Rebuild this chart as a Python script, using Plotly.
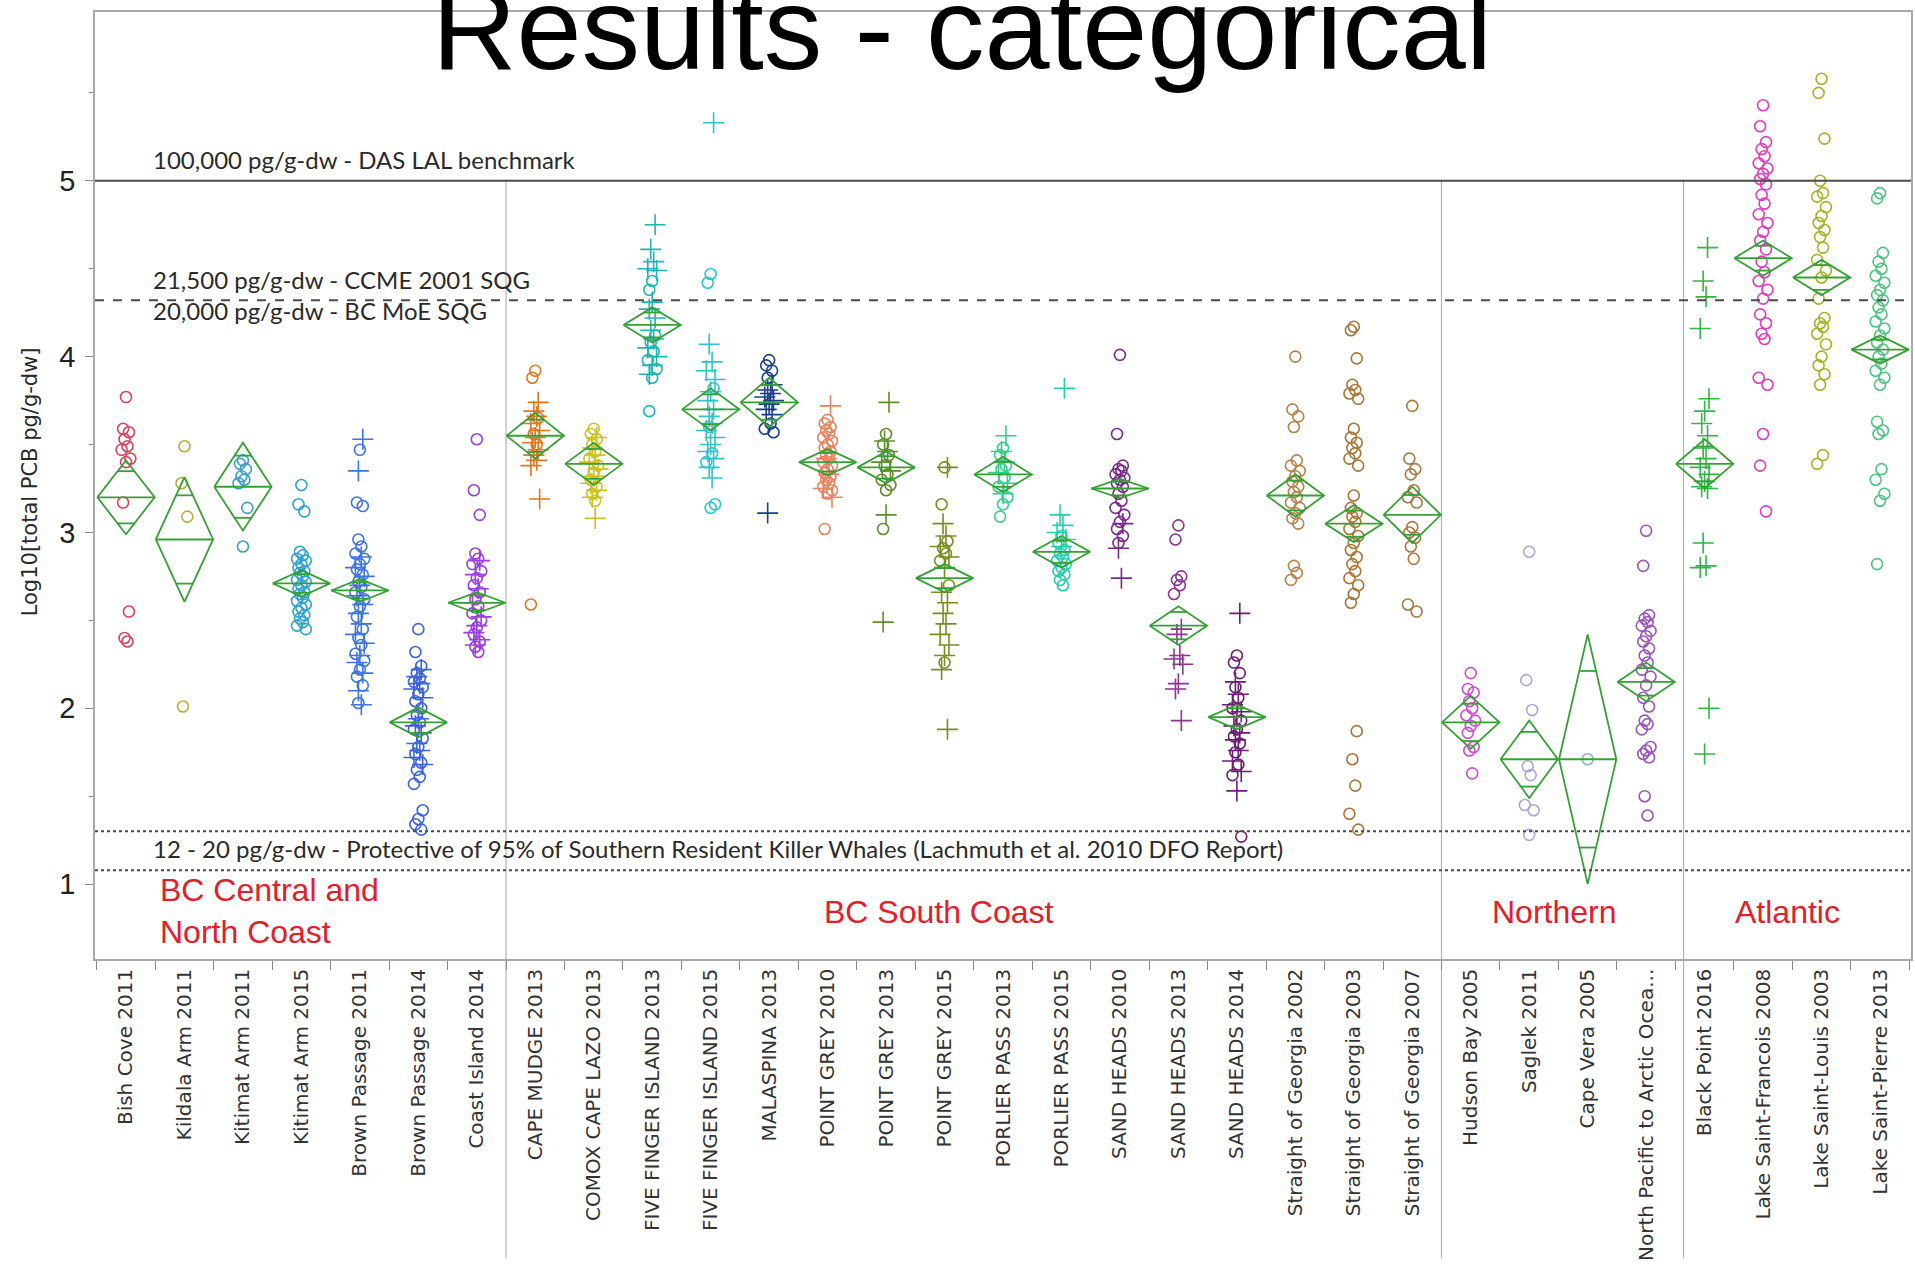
import math
import plotly.graph_objects as go

# ---------------- data ----------------
categories = [
    "Bish Cove 2011", "Kildala Arm 2011", "Kitimat Arm 2011", "Kitimat Arm 2015",
    "Brown Passage 2011", "Brown Passage 2014", "Coast Island 2014",
    "CAPE MUDGE 2013", "COMOX CAPE LAZO 2013", "FIVE FINGER ISLAND 2013",
    "FIVE FINGER ISLAND 2015", "MALASPINA 2013", "POINT GREY 2010", "POINT GREY 2013",
    "POINT GREY 2015", "PORLIER PASS 2013", "PORLIER PASS 2015", "SAND HEADS 2010",
    "SAND HEADS 2013", "SAND HEADS 2014", "Straight of Georgia 2002",
    "Straight of Georgia 2003", "Straight of Georgia 2007", "Hudson Bay 2005",
    "Saglek 2011", "Cape Vera 2005", "North Pacific to Arctic Ocea...",
    "Black Point 2016", "Lake Saint-Francois 2008", "Lake Saint-Louis 2003",
    "Lake Saint-Pierre 2013",
]

colors = [
    "#d9415e", "#b5b03a", "#3a9fc7", "#2fa3d0", "#3f74e0", "#3d63dc", "#9b3fe0",
    "#e0761e", "#c9c21f", "#1fb5b5", "#2ec4c9", "#1c3f8c", "#e8825f", "#5f8f2a",
    "#7a8c22", "#2fd08a", "#22d0b0", "#7a2a8a", "#8b3590", "#6b1e74", "#b5834a",
    "#a97637", "#a8783f", "#d04cd6", "#a7a8d6", "#7fc4a8", "#9a55b8", "#33b545",
    "#e03cbd", "#a4b224", "#4cc47e",
]

# group means and 95% CI half-widths (mean diamonds)
means = [3.20, 2.96, 3.26, 2.71, 2.67, 1.92, 2.60, 3.55, 3.39, 4.18, 3.70, 3.74,
         3.40, 3.37, 2.74, 3.33, 2.89, 3.25, 2.47, 1.95, 3.21, 3.05, 3.10, 1.92,
         1.71, 1.71, 2.15, 3.39, 4.56, 4.45, 4.04]
ci_half = [0.21, 0.355, 0.25, 0.075, 0.065, 0.085, 0.06, 0.13, 0.12, 0.10, 0.12, 0.14,
           0.075, 0.09, 0.08, 0.10, 0.09, 0.055, 0.11, 0.07, 0.12, 0.105, 0.16, 0.15,
           0.22, 0.71, 0.11, 0.14, 0.10, 0.10, 0.08]

# individual log10 values: circles (_O) and plus markers (_P)
BISH_COVE_2011_O = [3.77, 3.59, 3.57, 3.53, 3.49, 3.47, 3.42, 3.40, 3.17, 2.55, 2.40, 2.38]
BISH_COVE_2011_P = []
KILDALA_2011_O = [3.49, 3.28, 3.09, 2.01]
KILDALA_2011_P = []
KITIMAT_2011_O = [3.41, 3.39, 3.36, 3.32, 3.30, 3.28, 3.14, 2.92]
KITIMAT_2011_P = []
KITIMAT_2015_O = [3.27, 3.16, 3.12, 2.89, 2.87, 2.85, 2.84, 2.82, 2.80, 2.78, 2.77, 2.75,
                  2.73, 2.72, 2.70, 2.68, 2.66, 2.65, 2.63, 2.61, 2.59, 2.57, 2.55, 2.53,
                  2.51, 2.49, 2.47, 2.45]
KITIMAT_2015_P = []
BROWN_2011_O = [3.47, 3.17, 3.15, 2.96, 2.92, 2.88, 2.85, 2.82, 2.79, 2.76, 2.72, 2.69,
                2.66, 2.62, 2.58, 2.52, 2.45, 2.40, 2.36, 2.31, 2.27, 2.22, 2.18, 2.13, 2.03]
BROWN_2011_P = [3.53, 3.35, 2.86, 2.80, 2.75, 2.70, 2.64, 2.59, 2.54, 2.48, 2.42, 2.37,
                2.30, 2.26, 2.20, 2.10, 2.02]
BROWN_2014_O = [2.45, 2.32, 2.24, 2.20, 2.17, 2.15, 2.12, 2.08, 2.04, 2.00, 1.96, 1.92,
                1.88, 1.83, 1.78, 1.74, 1.69, 1.65, 1.61, 1.57, 1.42, 1.37, 1.34, 1.31]
BROWN_2014_P = [2.22, 2.18, 2.14, 2.11, 2.06, 1.94, 1.90, 1.86, 1.80, 1.76, 1.72, 1.68]
COAST_2014_O = [3.53, 3.24, 3.10, 2.88, 2.85, 2.82, 2.78, 2.74, 2.70, 2.66, 2.62, 2.58,
                2.54, 2.50, 2.46, 2.42, 2.38, 2.35, 2.32]
COAST_2014_P = [2.84, 2.76, 2.68, 2.60, 2.52, 2.47, 2.43, 2.39, 2.36]
CAPE_MUDGE_2013_O = [3.92, 3.88, 3.65, 3.56, 3.50, 2.59]
CAPE_MUDGE_2013_P = [3.74, 3.69, 3.66, 3.62, 3.58, 3.54, 3.51, 3.47, 3.44, 3.41, 3.38, 3.19]
COMOX_2013_O = [3.59, 3.56, 3.53, 3.50, 3.46, 3.42, 3.38, 3.34, 3.30, 3.26, 3.22, 3.18]
COMOX_2013_P = [3.54, 3.48, 3.44, 3.40, 3.36, 3.32, 3.28, 3.24, 3.20, 3.08]
FIVE_FINGER_2013_O = [4.43, 4.38, 4.12, 4.08, 4.03, 3.98, 3.93, 3.88, 3.69]
FIVE_FINGER_2013_P = [4.75, 4.61, 4.54, 4.50, 4.49, 4.31, 4.27, 4.22, 4.15, 4.10, 4.05,
                      4.00, 3.95, 3.90]
FIVE_FINGER_2015_O = [4.47, 4.42, 3.82, 3.60, 3.45, 3.40, 3.16, 3.14]
FIVE_FINGER_2015_P = [5.33, 4.07, 3.97, 3.92, 3.87, 3.80, 3.75, 3.70, 3.66, 3.62, 3.58,
                      3.54, 3.50, 3.46, 3.42, 3.37, 3.31]
MALASPINA_2013_O = [3.98, 3.95, 3.92, 3.88, 3.62, 3.59, 3.57]
MALASPINA_2013_P = [3.84, 3.81, 3.79, 3.77, 3.75, 3.73, 3.70, 3.67, 3.11]
POINT_GREY_2010_O = [3.64, 3.62, 3.60, 3.58, 3.56, 3.54, 3.52, 3.50, 3.48, 3.46, 3.44,
                     3.42, 3.40, 3.38, 3.36, 3.34, 3.32, 3.30, 3.28, 3.26, 3.24, 3.22, 3.02]
POINT_GREY_2010_P = [3.72, 3.42, 3.33, 3.25, 3.20]
POINT_GREY_2013_O = [3.56, 3.50, 3.44, 3.38, 3.33, 3.30, 3.27, 3.24, 3.02]
POINT_GREY_2013_P = [3.74, 3.52, 3.46, 3.40, 3.35, 3.10, 2.49]
POINT_GREY_2015_O = [3.37, 3.16, 2.95, 2.91, 2.88, 2.84, 2.70, 2.26]
POINT_GREY_2015_P = [3.37, 3.05, 2.98, 2.92, 2.86, 2.80, 2.66, 2.60, 2.54, 2.48, 2.42,
                     2.36, 2.30, 2.22, 1.88]
PORLIER_2013_O = [3.48, 3.44, 3.38, 3.36, 3.31, 3.26, 3.20, 3.16, 3.09]
PORLIER_2013_P = [3.55, 3.46, 3.40, 3.34, 3.28, 3.22]
PORLIER_2015_O = [2.98, 2.94, 2.90, 2.88, 2.86, 2.84, 2.82, 2.80, 2.78, 2.76, 2.73, 2.70]
PORLIER_2015_P = [3.82, 3.10, 3.04, 3.00, 2.96, 2.92]
SAND_HEADS_2010_O = [4.01, 3.56, 3.38, 3.36, 3.35, 3.33, 3.31, 3.30, 3.28, 3.26, 3.22,
                     3.18, 3.14, 3.10, 3.06, 3.02, 2.98, 2.94]
SAND_HEADS_2010_P = [3.05, 2.91, 2.74]
SAND_HEADS_2013_O = [3.04, 2.96, 2.75, 2.73, 2.70, 2.65]
SAND_HEADS_2013_P = [2.45, 2.42, 2.30, 2.28, 2.25, 2.14, 2.11, 1.93]
SAND_HEADS_2014_O = [2.30, 2.26, 2.20, 2.12, 2.06, 2.00, 1.93, 1.88, 1.84, 1.80, 1.75,
                     1.68, 1.62, 1.27]
SAND_HEADS_2014_P = [2.54, 2.15, 2.08, 2.02, 1.98, 1.95, 1.90, 1.86, 1.82, 1.76, 1.70,
                     1.64, 1.53]
GEORGIA_2002_O = [4.00, 3.70, 3.66, 3.60, 3.41, 3.38, 3.35, 3.32, 3.29, 3.26, 3.23, 3.20,
                  3.17, 3.14, 3.11, 3.08, 3.05, 2.81, 2.77, 2.73]
GEORGIA_2002_P = []
GEORGIA_2003_O = [4.17, 4.15, 3.99, 3.84, 3.81, 3.79, 3.76, 3.59, 3.54, 3.51, 3.48, 3.45,
                  3.42, 3.38, 3.21, 3.14, 3.11, 3.09, 3.06, 3.02, 2.98, 2.94, 2.90, 2.86,
                  2.82, 2.78, 2.74, 2.70, 2.65, 2.60, 1.87, 1.71, 1.56, 1.40, 1.31]
GEORGIA_2003_P = []
GEORGIA_2007_O = [3.72, 3.42, 3.36, 3.33, 3.24, 3.20, 3.17, 3.03, 3.00, 2.97, 2.92, 2.85,
                  2.59, 2.55]
GEORGIA_2007_P = []
HUDSON_BAY_2005_O = [2.20, 2.11, 2.09, 2.04, 2.00, 1.96, 1.93, 1.90, 1.86, 1.78, 1.76, 1.63]
HUDSON_BAY_2005_P = []
SAGLEK_2011_O = [2.89, 2.16, 1.99, 1.67, 1.62, 1.45, 1.42, 1.28]
SAGLEK_2011_P = []
CAPE_VERA_2005_O = [1.71]
CAPE_VERA_2005_P = []
NORTH_PACIFIC_O = [3.01, 2.81, 2.53, 2.51, 2.49, 2.47, 2.44, 2.41, 2.38, 2.34, 2.30, 2.26,
                   2.22, 2.18, 2.13, 2.06, 2.01, 1.93, 1.91, 1.88, 1.78, 1.76, 1.74, 1.72,
                   1.50, 1.39]
NORTH_PACIFIC_P = []
BLACK_POINT_2016_O = []
BLACK_POINT_2016_P = [4.62, 4.43, 4.34, 4.16, 3.76, 3.69, 3.62, 3.55, 3.48, 3.42, 3.37,
                      3.33, 3.29, 3.26, 3.25, 2.94, 2.81, 2.80, 2.00, 1.74]
LS_FRANCOIS_2008_O = [5.43, 5.31, 5.22, 5.18, 5.14, 5.10, 5.07, 5.04, 5.01, 4.98, 4.92,
                      4.87, 4.81, 4.76, 4.71, 4.66, 4.61, 4.54, 4.48, 4.43, 4.38, 4.33,
                      4.24, 4.19, 4.13, 4.10, 3.88, 3.84, 3.56, 3.38, 3.12]
LS_FRANCOIS_2008_P = []
LS_LOUIS_2003_O = [5.58, 5.50, 5.24, 5.00, 4.93, 4.91, 4.85, 4.80, 4.76, 4.72, 4.68, 4.62,
                   4.55, 4.49, 4.45, 4.33, 4.22, 4.19, 4.17, 4.13, 4.07, 4.00, 3.95, 3.90,
                   3.84, 3.44, 3.39]
LS_LOUIS_2003_P = []
LS_PIERRE_2013_O = [4.93, 4.90, 4.59, 4.54, 4.50, 4.46, 4.42, 4.38, 4.35, 4.32, 4.28, 4.24,
                    4.20, 4.16, 4.12, 4.08, 4.04, 4.00, 3.96, 3.92, 3.88, 3.84, 3.63, 3.58,
                    3.56, 3.36, 3.30, 3.22, 3.18, 2.82]
LS_PIERRE_2013_P = []

circle_sets = [BISH_COVE_2011_O, KILDALA_2011_O, KITIMAT_2011_O, KITIMAT_2015_O,
               BROWN_2011_O, BROWN_2014_O, COAST_2014_O, CAPE_MUDGE_2013_O, COMOX_2013_O,
               FIVE_FINGER_2013_O, FIVE_FINGER_2015_O, MALASPINA_2013_O, POINT_GREY_2010_O,
               POINT_GREY_2013_O, POINT_GREY_2015_O, PORLIER_2013_O, PORLIER_2015_O,
               SAND_HEADS_2010_O, SAND_HEADS_2013_O, SAND_HEADS_2014_O, GEORGIA_2002_O,
               GEORGIA_2003_O, GEORGIA_2007_O, HUDSON_BAY_2005_O, SAGLEK_2011_O,
               CAPE_VERA_2005_O, NORTH_PACIFIC_O, BLACK_POINT_2016_O, LS_FRANCOIS_2008_O,
               LS_LOUIS_2003_O, LS_PIERRE_2013_O]
plus_sets = [BISH_COVE_2011_P, KILDALA_2011_P, KITIMAT_2011_P, KITIMAT_2015_P,
             BROWN_2011_P, BROWN_2014_P, COAST_2014_P, CAPE_MUDGE_2013_P, COMOX_2013_P,
             FIVE_FINGER_2013_P, FIVE_FINGER_2015_P, MALASPINA_2013_P, POINT_GREY_2010_P,
             POINT_GREY_2013_P, POINT_GREY_2015_P, PORLIER_2013_P, PORLIER_2015_P,
             SAND_HEADS_2010_P, SAND_HEADS_2013_P, SAND_HEADS_2014_P, GEORGIA_2002_P,
             GEORGIA_2003_P, GEORGIA_2007_P, HUDSON_BAY_2005_P, SAGLEK_2011_P,
             CAPE_VERA_2005_P, NORTH_PACIFIC_P, BLACK_POINT_2016_P, LS_FRANCOIS_2008_P,
             LS_LOUIS_2003_P, LS_PIERRE_2013_P]

# reference levels (log10 pg/g-dw)
ref_das_lal = 5.0
ref_sqg = 4.32
ref_srkw_hi = math.log10(20)
ref_srkw_lo = math.log10(12)

group_bounds = [6.5, 22.5, 26.64]
region_labels = ["BC Central and<br>North Coast", "BC South Coast", "Northern", "Atlantic"]
region_x = [0.55, 13.9, 24.44, 28.42]

# ---------------- layout constants ----------------
W, H = 1915, 1272
ML, MR, MT, MB = 95, 4, 12, 313
X_RANGE = [-0.53, 30.53]
Y_RANGE = [0.574, 5.96]
JITTER = [0.0, -0.05, 0.05, -0.025, 0.025, -0.075, 0.075]
DIAMOND_W = 0.49
DIAMOND_COLOR = "#36a036"

fig = go.Figure()

# points
for i, cat in enumerate(categories):
    cs = circle_sets[i]
    ps = plus_sets[i]
    if cs:
        fig.add_trace(go.Scatter(
            x=[i + JITTER[k % len(JITTER)] for k in range(len(cs))], y=cs,
            mode="markers",
            marker=dict(symbol="circle-open", size=11, color=colors[i],
                        line=dict(width=1.6, color=colors[i])),
            showlegend=False, hoverinfo="skip"))
    if ps:
        fig.add_trace(go.Scatter(
            x=[i + JITTER[(k + 2) % len(JITTER)] for k in range(len(ps))], y=ps,
            mode="markers",
            marker=dict(symbol="cross-thin-open", size=15, color=colors[i],
                        line=dict(width=1.6, color=colors[i])),
            showlegend=False, hoverinfo="skip"))

# mean diamonds
dx, dy = [], []
for i, (m, h) in enumerate(zip(means, ci_half)):
    dx += [i - DIAMOND_W, i, i + DIAMOND_W, i, i - DIAMOND_W, None]
    dy += [m, m + h, m, m - h, m, None]
    dx += [i - DIAMOND_W, i + DIAMOND_W, None]
    dy += [m, m, None]
    o = h / math.sqrt(2)
    ow = DIAMOND_W * (1 - 1 / math.sqrt(2))
    dx += [i - ow, i + ow, None, i - ow, i + ow, None]
    dy += [m + o, m + o, None, m - o, m - o, None]
fig.add_trace(go.Scatter(x=dx, y=dy, mode="lines",
                         line=dict(color=DIAMOND_COLOR, width=1.8),
                         showlegend=False, hoverinfo="skip"))

# reference lines
fig.add_shape(type="line", xref="paper", x0=0, x1=1, yref="y",
              y0=ref_das_lal, y1=ref_das_lal, line=dict(color="#4a4a4a", width=2))
fig.add_shape(type="line", xref="paper", x0=0, x1=1, yref="y",
              y0=ref_sqg, y1=ref_sqg, line=dict(color="#4a4a4a", width=2, dash="dash"))
for yv in (ref_srkw_hi, ref_srkw_lo):
    fig.add_shape(type="line", xref="paper", x0=0, x1=1, yref="y",
                  y0=yv, y1=yv, line=dict(color="#4a4a4a", width=2, dash="dot"))

# group separators (from the 5.0 line down through the label area)
y_top_sep = (ref_das_lal - Y_RANGE[0]) / (Y_RANGE[1] - Y_RANGE[0])
for b in group_bounds:
    fig.add_shape(type="line", xref="x", x0=b, x1=b, yref="paper",
                  y0=-0.316, y1=y_top_sep, line=dict(color="#b4b4b4", width=1.2),
                  layer="below")

ann = []
ref_font = dict(family="Lato, 'Open Sans', sans-serif", size=24, color="#2a2a2a")
ann.append(dict(text="100,000 pg/g-dw - DAS LAL benchmark", xref="paper", x=0.031,
                xanchor="left", yref="y", y=5.12, yanchor="middle", showarrow=False,
                font=ref_font))
ann.append(dict(text="21,500 pg/g-dw - CCME 2001 SQG", xref="paper", x=0.031,
                xanchor="left", yref="y", y=4.44, yanchor="middle", showarrow=False,
                font=ref_font))
ann.append(dict(text="20,000 pg/g-dw - BC MoE SQG", xref="paper", x=0.031,
                xanchor="left", yref="y", y=4.26, yanchor="middle", showarrow=False,
                font=ref_font))
ann.append(dict(text="12 - 20 pg/g-dw - Protective of 95% of Southern Resident Killer Whales "
                     "(Lachmuth et al. 2010 DFO Report)",
                xref="paper", x=0.031, xanchor="left", yref="y", y=1.205,
                yanchor="middle", showarrow=False, font=ref_font))

reg_font = dict(family="Liberation Sans, Arial, sans-serif", size=32, color="#e0202a")
ann.append(dict(text=region_labels[0], xref="x", x=region_x[0], xanchor="left",
                yref="y", y=0.845, yanchor="middle", align="left", showarrow=False,
                font=reg_font))
for k in range(1, 4):
    ann.append(dict(text=region_labels[k], xref="x", x=region_x[k], xanchor="center",
                    yref="y", y=0.84, yanchor="middle", showarrow=False, font=reg_font))

# title (partly cut by the top of the page, as in the original slide)
ann.append(dict(text="Results - categorical", xref="paper", x=0.4774, xanchor="center",
                yref="paper", y=0.9115, yanchor="bottom", showarrow=False,
                font=dict(family="Liberation Sans, Arial, sans-serif", size=117,
                          color="#000000")))

# y-axis title
ann.append(dict(text="Log10[total PCB pg/g-dw]", xref="paper", x=-0.036, xanchor="center",
                yref="paper", y=0.504, yanchor="middle", textangle=-90, showarrow=False,
                font=dict(family="DejaVu Sans, sans-serif", size=21, color="#2a2a2a")))

fig.update_layout(
    template="none",
    width=W, height=H,
    margin=dict(l=ML, r=MR, t=MT, b=MB, autoexpand=False),
    paper_bgcolor="white", plot_bgcolor="white",
    showlegend=False, hovermode=False,
    annotations=ann,
    xaxis=dict(
        automargin=False,
        range=X_RANGE, tickmode="array", tickvals=list(range(len(categories))),
        ticktext=categories, tickangle=-90, ticks="",
        tickfont=dict(family="DejaVu Sans, sans-serif", size=20, color="#333333"),
        showgrid=False, zeroline=False, showline=True, mirror=True,
        linecolor="#a8a8a8", linewidth=1.5,
        minor=dict(tickmode="array", tickvals=[i + 0.5 for i in range(-1, len(categories))],
                   ticks="outside", ticklen=9, tickcolor="#888888", tickwidth=1,
                   showgrid=False),
    ),
    yaxis=dict(
        automargin=False,
        range=Y_RANGE, tickmode="array", tickvals=[1, 2, 3, 4, 5],
        ticks="outside", ticklen=8, tickcolor="#888888", ticklabelstandoff=4,
        tickfont=dict(family="Liberation Sans, Arial, sans-serif", size=29, color="#222222"),
        showgrid=False, zeroline=False, showline=True, mirror=True,
        linecolor="#a8a8a8", linewidth=1.5,
        minor=dict(tickmode="array", tickvals=[1.5, 2.5, 3.5, 4.5, 5.5],
                   ticks="outside", ticklen=4, tickcolor="#888888", showgrid=False),
    ),
)

fig.write_html(
    "out.html",
    config={"displayModeBar": False},
    post_script="document.body.style.margin='0px';document.body.style.overflow='hidden';",
)
